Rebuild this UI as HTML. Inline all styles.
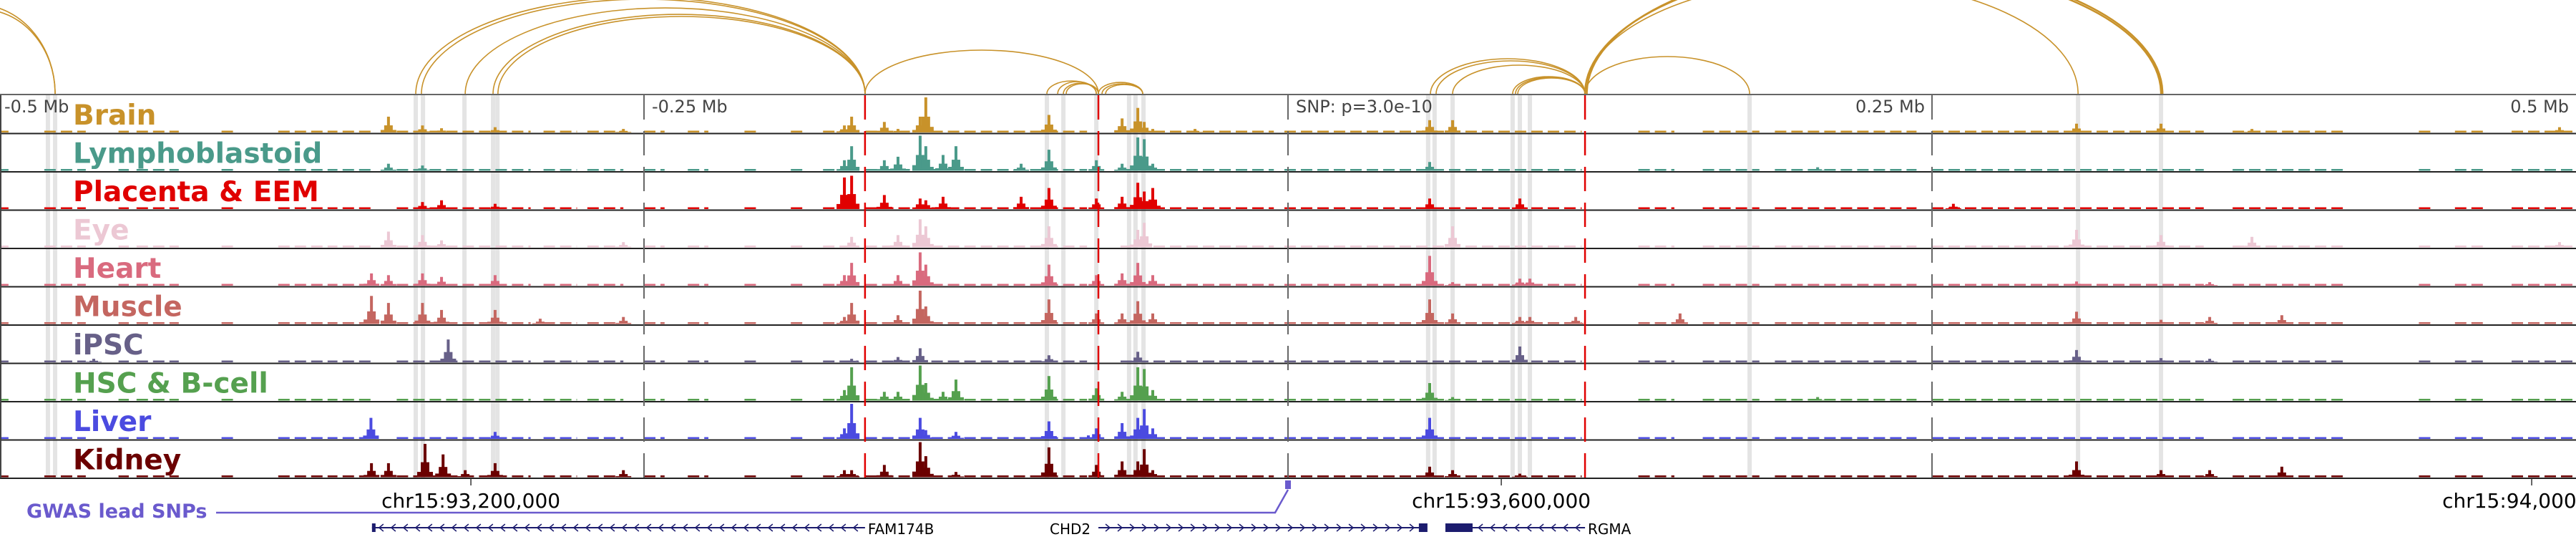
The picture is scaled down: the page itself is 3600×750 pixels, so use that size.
<!DOCTYPE html>
<html><head><meta charset="utf-8"><style>
html,body{margin:0;padding:0;background:#fff;}
svg{display:block;}
</style></head><body>
<svg id="chart" width="3600" height="750" viewBox="0 0 3600 750" xmlns="http://www.w3.org/2000/svg">
<g id="hl"></g>
<g id="arcs"></g>
<g id="tracks"></g>
<g id="grid"></g>
<g id="labels"></g>
<g id="bottom"></g>
</svg>
<script>
// ---- data (genomic offsets in kb relative to lead SNP) ----
const tissueNames = ["Brain","Lymphoblastoid","Placenta & EEM","Eye","Heart","Muscle","iPSC","HSC & B-cell","Liver","Kidney"];
const tissueColors = ["#c8922a","#4a9a8a","#e00000","#ecc8d4","#d96a7e","#c46660","#676088","#55a04f","#4b4be0","#6b0000"];
const axisTicksKb = [-500,-250,0,250,500];
const axisTickLabels = ["-0.5 Mb","-0.25 Mb","SNP: p=3.0e-10","0.25 Mb","0.5 Mb"];
const redLinesKb = [-164.2,-73.6,115.3];
const highlightKb = [-481.4,-478.6,-338.6,-335.8,-319.7,-308.6,-306.9,-93.6,-87.2,-74.4,-61.7,-59.2,-56.1,54.4,56.9,63.9,87.2,90,93.9,179.2,306.7,338.9];
const coverageKb = [[-500,-496.7],[-482.8,-478.3],[-476.4,-466.7],[-454,-450],[-447,-430.6],[-414,-408],[-392,-369],[-367,-356],[-346,-294],[-289,-276],[-272,-258],[-250,-242],[-233,-225],[-211,-206],[-193,-187.5],[-180.5,-166.7],[-164,-78],[-65,-5.5],[-1.4,114],[136,150],[161,183],[189,244],[250,355.5],[366.7,411],[439,444],[453,464],[475,500]];
const brainPeaks = [[-349.2,.45],[-336,.2],[-328.6,.12],[-307.8,.15],[-258,.1],[-172.2,.2],[-169.4,.45],[-156.7,.3],[-151.4,.1],[-142.8,.45],[-140.6,1],[-92.8,.5],[-64.4,.4],[-58.3,.7],[-55.8,.3],[-52.5,.1],[-36.1,.1],[55,.35],[63.9,.35],[306.1,.25],[338.9,.25],[374.2,.1],[493.6,.15]];
const lymphPeaks = [[-349.2,.2],[-336,.15],[-172.2,.3],[-169.4,.7],[-156.7,.3],[-151.4,.4],[-142.8,1],[-140.6,.7],[-133.9,.45],[-128.9,.7],[-103.6,.2],[-92.8,.6],[-74.4,.3],[-64.4,.2],[-58.3,.95],[-55.8,.9],[-52.5,.2],[55,.25],[205.6,.1]];
const placentaPeaks = [[-336,.2],[-328.6,.25],[-307.8,.15],[-172.2,.9],[-169.4,.95],[-156.7,.4],[-142.8,.3],[-140.6,.25],[-133.9,.35],[-103.6,.35],[-92.8,.6],[-74.4,.3],[-64.4,.35],[-58.3,.75],[-55.8,.5],[-52.5,.6],[55,.3],[90,.3],[258.3,.15]];
const eyePeaks = [[-349.2,.45],[-336,.35],[-328.6,.2],[-258,.15],[-169.4,.3],[-151.4,.35],[-142.8,.8],[-140.6,.6],[-92.8,.6],[-58.3,.5],[-55.8,.7],[63.9,.6],[306.1,.5],[338.9,.35],[374.2,.3],[493.6,.15]];
const heartPeaks = [[-355.8,.35],[-349.2,.3],[-336,.35],[-328.6,.25],[-307.8,.3],[-172.2,.3],[-169.4,.65],[-151.4,.3],[-142.8,.95],[-140.6,.6],[-92.8,.6],[-74.4,.3],[-64.4,.35],[-58.3,.65],[-52.5,.3],[55,.85],[63.9,.1],[90,.2],[93.9,.2],[306.1,.12],[357.8,.1]];
const musclePeaks = [[-355.8,.8],[-349.2,.6],[-336,.6],[-328.6,.4],[-307.8,.4],[-290.3,.15],[-258,.2],[-172.2,.2],[-169.4,.6],[-151.4,.25],[-142.8,.95],[-140.6,.5],[-92.8,.7],[-74.4,.3],[-64.4,.3],[-58.3,.65],[-52.5,.3],[55,.7],[63.9,.3],[90,.2],[93.9,.2],[111.7,.2],[152.2,.3],[306.1,.35],[338.9,.12],[357.8,.2],[385.8,.25]];
const ipscPeaks = [[-463.6,.1],[-326,.65],[-169.4,.1],[-151.4,.15],[-142.8,.4],[-92.8,.2],[-58.3,.3],[90,.45],[306.1,.35],[338.9,.12],[357.8,.1]];
const hscPeaks = [[-172.2,.3],[-169.4,.95],[-156.7,.25],[-151.4,.25],[-142.8,1],[-140.6,.5],[-133.9,.25],[-128.9,.6],[-92.8,.7],[-74.4,.35],[-64.4,.25],[-58.3,.95],[-55.8,.9],[-52.5,.3],[55,.5],[63.9,.1],[205.6,.1]];
const liverPeaks = [[-356,.6],[-307.8,.2],[-172.2,.3],[-169.4,1],[-142.8,.6],[-140.6,.25],[-128.9,.2],[-92.8,.5],[-77.5,.1],[-74.4,.3],[-64.4,.45],[-58.3,.6],[-55.8,.85],[-52.5,.3],[55,.6]];
const kidneyPeaks = [[-355.8,.4],[-349.2,.4],[-335,.95],[-328,.65],[-319.4,.2],[-307.8,.4],[-258,.2],[-172.2,.2],[-169.4,.2],[-156.7,.35],[-142.8,1],[-140.6,.6],[-128.9,.15],[-92.8,.85],[-74.4,.35],[-64.4,.45],[-58.3,.45],[-55.8,.8],[-52.5,.2],[55,.3],[63.9,.2],[90,.1],[306.1,.45],[338.9,.2],[357.8,.2],[385.8,.3]];
const allPeaks = [brainPeaks,lymphPeaks,placentaPeaks,eyePeaks,heartPeaks,musclePeaks,ipscPeaks,hscPeaks,liverPeaks,kidneyPeaks];
// arcs: [startKb, endKb, heightPx]
const arcData = [[-540,-478.6,125],[-536,-478.6,118],[-338.6,-164.2,135],[-336.4,-164.2,132],[-319.4,-164.2,120],[-308.6,-164.2,111],[-306.7,-164.2,108],[-164.2,-73.6,61],[-93.6,-74.4,18],[-89.4,-74.4,17],[-87.2,-73.6,15],[-86.1,-73.6,14],[-73.6,-56.4,16],[-72.2,-56.4,14],[-70.8,-56.4,13],[55.3,115.3,49],[57.5,115.3,46],[63.9,115.3,40],[87.2,115.3,24],[88.3,115.3,23],[89.2,115.3,22],[115.3,179.2,52],[115.3,306.7,160],[115.3,338.9,180],[116,339.5,183]];
const chrTicksKb = [-317.2,82.8,482.8];
const chrTickLabels = ["chr15:93,200,000","chr15:93,600,000","chr15:94,000,000"];
const genes = [{name:"FAM174B",start:-355.6,end:-164.2,strand:-1,labelKb:-163.1},
               {name:"CHD2",start:-73.6,end:52.8,strand:1,labelKb:-92.5},
               {name:"RGMA",start:61.7,end:115.3,strand:-1,labelKb:116.4}];
const snpKb = [0];

// ---- scales ----
const NS="http://www.w3.org/2000/svg";
const TOP=133, TH=53.5, NT=10, BOT=TOP+TH*NT;
const x = kb => 1800 + kb*3.6;
function mk(tag, attrs, parent){const e=document.createElementNS(NS,tag);for(const k in attrs)e.setAttribute(k,attrs[k]);parent.appendChild(e);return e;}
const gHL=document.getElementById('hl'),gArc=document.getElementById('arcs'),gT=document.getElementById('tracks'),gG=document.getElementById('grid'),gL=document.getElementById('labels'),gB=document.getElementById('bottom');

highlightKb.forEach(k=>{const r=mk('rect',{x:x(k)-3,y:TOP,width:6,height:BOT-TOP,fill:'#e4e4e4'},gHL);

});

arcData.forEach(a=>{const x1=x(a[0]),x2=x(a[1]),rx=(x2-x1)/2;
const p=mk('path',{d:`M${x1},131 A${rx},${a[2]} 0 0 1 ${x2},131`,fill:'none',stroke:'#c8922a','stroke-width':a[2]>175?2.5:1.6},gArc);

});

for(let i=0;i<NT;i++){
  const g=mk('g',{},gT);
  
  
  const base=TOP+TH*(i+1)-1.5, col=tissueColors[i];
  coverageKb.forEach(s=>{mk('line',{x1:x(s[0]),x2:x(s[1]),y1:base-1.2,y2:base-1.2,stroke:col,'stroke-width':2.5,'stroke-dasharray':'16 7'},g);});
  allPeaks[i].forEach(p=>{const H=p[1]*49,cx=x(p[0]);
    mk('rect',{x:cx-11,y:base-H*0.16,width:22,height:H*0.16,fill:col},g);
    mk('rect',{x:cx-6,y:base-H*0.45,width:12,height:H*0.45,fill:col},g);
    const b=mk('rect',{x:cx-2,y:base-H,width:4,height:H,fill:col},g);
    
    });
  const lb=mk('line',{x1:0,x2:3600,y1:TOP+TH*(i+1),y2:TOP+TH*(i+1),stroke:'#222','stroke-width':2},gG);
  
  
  const t=mk('text',{x:102,y:TOP+TH*i+41,fill:col,'font-family':'DejaVu Sans, sans-serif','font-weight':'bold','font-size':39},gL);
  t.textContent=tissueNames[i];
  
  
}
mk('line',{x1:0,x2:3600,y1:TOP-1,y2:TOP-1,stroke:'#666','stroke-width':2},gG);
mk('line',{x1:1,x2:1,y1:TOP,y2:BOT,stroke:'#444','stroke-width':2},gG);

axisTicksKb.forEach((k,i)=>{
  if(k>-500&&k<500){const l=mk('line',{x1:x(k),x2:x(k),y1:TOP,y2:BOT,stroke:'#666','stroke-width':2,'stroke-dasharray':'34 16'},gG);
  
  }
  const right=k>0;
  const t=mk('text',{x:right?x(k)-10:(k===-500?6:x(k)+11),y:157,fill:'#444','font-family':'DejaVu Sans, sans-serif','font-size':24,'text-anchor':right?'end':'start'},gL);
  t.textContent=axisTickLabels[i];
  
  
});
redLinesKb.forEach(k=>{const l=mk('line',{x1:x(k),x2:x(k),y1:TOP,y2:BOT,stroke:'#e00000','stroke-width':2.5,'stroke-dasharray':'34 16'},gG);

});

chrTicksKb.forEach((k,i)=>{mk('line',{x1:x(k),x2:x(k),y1:BOT,y2:BOT+10,stroke:'#333','stroke-width':1.5},gB);
const t=mk('text',{x:x(k),y:709,fill:'#000','font-family':'DejaVu Sans, sans-serif','font-size':28,'text-anchor':'middle'},gB);
t.textContent=chrTickLabels[i];

});

const gw=mk('text',{x:37,y:723,fill:'#6a5acd','font-family':'DejaVu Sans, sans-serif','font-weight':'bold','font-size':27},gB);
gw.textContent='GWAS lead SNPs';


snpKb.forEach(k=>{const sx=x(k);
const pl=mk('polyline',{points:`302,716 ${sx-18},716 ${sx},684`,fill:'none',stroke:'#6a5acd','stroke-width':2.5},gB);


const r=mk('rect',{x:sx-4,y:671,width:8,height:12,fill:'#6a5acd'},gB);

});

genes.forEach(gn=>{const g=mk('g',{},gB);


const x1=x(gn.start),x2=x(gn.end),y=737;
mk('line',{x1:x1,x2:x2,y1:y,y2:y,stroke:'#1c1c6e','stroke-width':2},g);
for(let px=x1+12;px<x2-6;px+=17){const d=gn.strand<0?`M${px+4},${y-5} L${px-2},${y} L${px+4},${y+5}`:`M${px-2},${y-5} L${px+4},${y} L${px-2},${y+5}`;
mk('path',{d:d,fill:'none',stroke:'#1c1c6e','stroke-width':1.5},g);}
const t=mk('text',{x:x(gn.labelKb),y:746,fill:'#000','font-family':'DejaVu Sans, sans-serif','font-size':20},g);
t.textContent=gn.name;});
mk('rect',{x:x(-355.6),y:731,width:5,height:12,fill:'#1c1c6e'},gB);
mk('rect',{x:x(50.8),y:731,width:12,height:12,fill:'#1c1c6e'},gB);
mk('rect',{x:x(61.1),y:731,width:38,height:12,fill:'#1c1c6e'},gB);
</script>
</body></html>
